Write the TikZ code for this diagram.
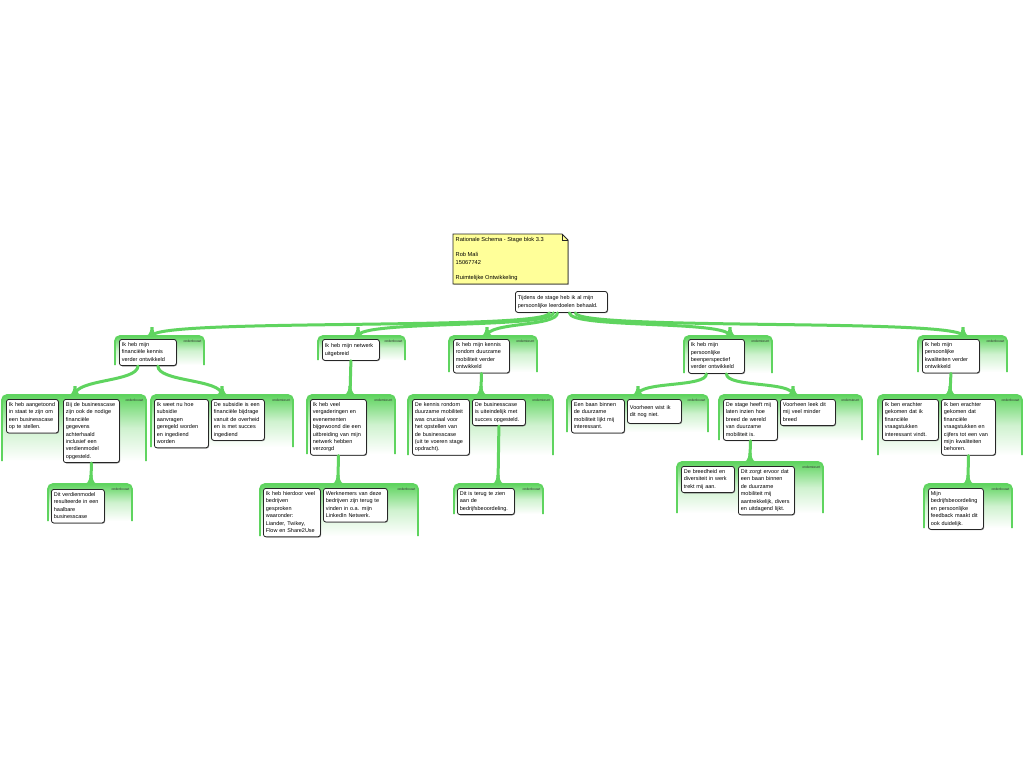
\documentclass[tikz,border=0pt]{standalone}
\usepackage{fontspec}
\setmainfont{Liberation Sans}
\usetikzlibrary{shadows,calc}
\definecolor{G}{RGB}{95,212,95}
\definecolor{notey}{RGB}{255,255,153}
\tikzset{
  box/.style={draw=black!85, line width=0.8pt, rounded corners=2.5pt, fill=white,
    inner xsep=2.5pt, inner ysep=2pt, align=left, anchor=north west,
    font=\fontsize{5.5}{7.4}\selectfont,
    drop shadow={shadow xshift=0.7pt, shadow yshift=-0.7pt, fill=black!45, opacity=1}},
  link/.style={draw=G, line width=3pt, line cap=round},
  tag/.style={font=\fontsize{3.4}{3.8}\selectfont, anchor=north east, inner sep=0pt, text=black!80},
}
\newcommand\bx[6]{\pgfmathsetmacro\tw{#4-5}%
  \node[box, text width=\tw pt, minimum height=#5pt] (#1) at (#2,#3) {\begin{tabular}{@{}l@{}}#6\end{tabular}};}
\newcommand\grp[5]{%
  \shade[top color=G, bottom color=white, middle color=G!30, rounded corners=5pt] (#1,#4) -- (#1,#2) -- (#3,#2) -- (#3,#4) -- cycle;
  \draw[G, line width=1.8pt, rounded corners=5pt] (#1,#4) -- (#1,#2) -- (#3,#2) -- (#3,#4);
  \node[tag] at (#3-2.5,#2+3.5) {#5};}
\newcommand\flare[1]{%
  \fill[G] ($(#1)+(-1.5,-9)$) .. controls ($(#1)+(-1.5,-2)$) and ($(#1)+(-4,0)$) .. ($(#1)+(-9,0.8)$)
    -- ($(#1)+(9,0.8)$) .. controls ($(#1)+(4,0)$) and ($(#1)+(1.5,-2)$) .. ($(#1)+(1.5,-9)$) -- cycle;}
\begin{document}
\begin{tikzpicture}[x=1pt,y=-1pt]
\useasboundingbox[fill=white] (0,0) rectangle (1024,768);

% ---------- groups ----------
\grp{115}{336}{204}{365}{onderbouwt}
\grp{318}{336}{405}{360}{onderbouwt}
\grp{449}{336}{537}{372}{ondersteunt}
\grp{684}{336}{772}{373}{ondersteunt}
\grp{918}{336}{1007}{372}{onderbouwt}

\grp{2}{395}{146}{461}{onderbouwt}
\grp{151}{395}{293}{447}{ondersteunt}
\grp{307}{395}{395}{454}{ondersteunt}
\grp{408}{395}{553}{455}{ondersteunt}
\grp{567}{395}{708}{432}{onderbouwt}
\grp{719}{395}{862}{440}{ondersteunt}
\grp{878}{395}{1022}{455}{onderbouwt}

\grp{48}{484}{132}{521}{onderbouwt}
\grp{260}{484}{418}{536}{onderbouwt}
\grp{454}{484}{543}{514}{onderbouwt}
\grp{677}{462}{823}{513}{ondersteunt}
\grp{924}{484}{1012}{528}{onderbouwt}

% ---------- group top coordinates ----------
\coordinate (t1) at (152,336);
\coordinate (t2) at (358,336);
\coordinate (t3) at (487,336);
\coordinate (t4) at (730,336);
\coordinate (t5) at (963,336);
\coordinate (t1a) at (75,395);
\coordinate (t1b) at (222,395);
\coordinate (t2a) at (350,395);
\coordinate (t3a) at (481,395);
\coordinate (t4a) at (638,395);
\coordinate (t4b) at (793,395);
\coordinate (t5a) at (950,395);
\coordinate (t1ai) at (91,484);
\coordinate (t2ai) at (338,484);
\coordinate (t3ai) at (498,484);
\coordinate (t4bi) at (750,462);
\coordinate (t5ai) at (968,484);

% ---------- note ----------
\filldraw[fill=notey, draw=black!85, line width=0.8pt,
  drop shadow={shadow xshift=0.7pt, shadow yshift=-0.7pt, fill=black!45, opacity=1}]
  (453,234) -- (562,234) -- (568,240) -- (568,284) -- (453,284) -- cycle;
\draw[black!85, line width=0.6pt] (562,234) -- (562,240) -- (568,240);
\node[anchor=north west, inner sep=0pt, align=left, font=\fontsize{5.7}{7.7}\selectfont] (note) at (455.5,237.3)
  {Rationale Schema - Stage blok 3.3\\[7.4pt]Rob Mali\\15067742\\[7.4pt]Ruimtelijke Ontwikkeling};

% ---------- boxes ----------
\bx{root}{515}{291}{92}{21}{Tijdens de stage heb ik al mijn\\persoonlijke leerdoelen behaald.}

\bx{n1}{119}{339}{57}{26}{Ik heb mijn\\financiële kennis\\verder ontwikkeld}
\bx{n2}{322}{339}{57}{21}{Ik heb mijn netwerk\\uitgebreid}
\bx{n3}{453}{339}{56}{33}{Ik heb mijn kennis\\rondom duurzame\\mobiliteit verder\\ontwikkeld}
\bx{n4}{688}{339}{56}{34}{Ik heb mijn\\persoonlijke\\beenperspectief\\verder ontwikkeld}
\bx{n5}{922}{339}{57}{33}{Ik heb mijn\\persoonlijke\\kwaliteiten verder\\ontwikkeld}

% ---------- connectors ----------
\draw[link] ($(root.south)+(-12,0)$) .. controls +(0,18) and +(0,-18) .. (t1);
\draw[link] ($(root.south)+(-8,0)$) .. controls +(0,16) and +(0,-16) .. (t2);
\draw[link] ($(root.south)+(-4,0)$) .. controls +(0,14) and +(0,-14) .. (t3);
\draw[link] ($(root.south)+(8,0)$) .. controls +(0,16) and +(0,-16) .. (t4);
\draw[link] ($(root.south)+(14,0)$) .. controls +(0,18) and +(0,-18) .. (t5);

\draw[link] ($(n1.south)+(-10,0)$) .. controls +(0,16) and +(0,-16) .. (t1a);
\draw[link] ($(n1.south)+(10,0)$) .. controls +(0,16) and +(0,-16) .. (t1b);
\draw[link] (n2.south) -- (t2a);
\draw[link] (n3.south) -- (t3a);
\draw[link] ($(n4.south)+(-10,0)$) .. controls +(0,14) and +(0,-14) .. (t4a);
\draw[link] ($(n4.south)+(10,0)$) .. controls +(0,14) and +(0,-14) .. (t4b);
\draw[link] (n5.south) -- (t5a);

\foreach \t in {t1,t2,t3,t4,t5,t1a,t1b,t2a,t3a,t4a,t4b,t5a} {\flare{\t}}

% ---------- level 2 ----------
\bx{a}{6}{399}{52}{32}{Ik heb aangetoond\\in staat te zijn om\\een businesscase\\op te stellen.}
\bx{b}{63}{399}{56}{62}{Bij de businesscase\\zijn ook de nodige\\financiële\\gegevens\\achterhaald\\inclusief een\\verdienmodel\\opgesteld.}
\bx{c}{154}{399}{54}{47}{Ik weet nu hoe\\subsidie\\aanvragen\\geregeld worden\\en ingediend\\worden}
\bx{d}{211}{399}{53}{40}{De subsidie is een\\financiële bijdrage\\vanuit de overheid\\en is met succes\\ingediend}
\bx{e2}{310}{399}{56}{54}{Ik heb veel\\vergaderingen en\\evenementen\\bijgewoond die een\\uitbreiding van mijn\\netwerk hebben\\verzorgd}
\bx{e}{412}{399}{57}{55}{De kennis rondom\\duurzame mobiliteit\\was cruciaal voor\\het opstellen van\\de businesscase\\(uit te voeren stage\\opdracht).}
\bx{f}{472}{399}{53}{25}{De businesscase\\is uiteindelijk met\\succes opgesteld.}
\bx{g}{571}{399}{53}{32}{Een baan binnen\\de duurzame\\mobiliteit lijkt mij\\interessant.}
\bx{h}{627}{399}{54}{24}{Voorheen wist ik\\dit nog niet.}
\bx{i}{723}{399}{54}{40}{De stage heeft mij\\laten inzien hoe\\breed de wereld\\van duurzame\\mobiliteit is.}
\bx{j}{780}{399}{55}{25}{Voorheen leek dit\\mij veel minder\\breed}
\bx{k}{882}{399}{56}{40}{Ik ben erachter\\gekomen dat ik\\financiële\\vraagstukken\\interessant vindt.}
\bx{l}{941}{399}{54}{55}{Ik ben erachter\\gekomen dat\\financiële\\vraagstukken en\\cijfers tot een van\\mijn kwaliteiten\\behoren.}

\draw[link] (b.south) -- (t1ai);
\draw[link] (e2.south) -- (t2ai);
\draw[link] (f.south) -- (t3ai);
\draw[link] (i.south) -- (t4bi);
\draw[link] (l.south) -- (t5ai);
\foreach \t in {t1ai,t2ai,t3ai,t4bi,t5ai} {\flare{\t}}

% ---------- level 3 ----------
\bx{m1}{51}{489}{53}{32}{Dit verdienmodel\\resulteerde in een\\haalbare\\businesscase}
\bx{mm}{263}{488}{57}{48}{Ik heb hierdoor veel\\bedrijven\\gesproken\\waaronder:\\Liander, Twikey,\\Flow en Share2Use}
\bx{nn}{323}{488}{64}{33}{Werknemers van deze\\bedrijven zijn terug te\\vinden in o.a. mijn\\LinkedIn Netwerk.}
\bx{p3}{457}{488}{57}{25}{Dit is terug te zien\\aan de\\bedrijfsbeoordeling.}
\bx{o}{681}{466}{53}{26}{De breedheid en\\diversiteit in werk\\trekt mij aan.}
\bx{p}{738}{466}{56}{47}{Dit zorgt ervoor dat\\een baan binnen\\de duurzame\\mobiliteit mij\\aantrekkelijk, divers\\en uitdagend lijkt.}
\bx{q}{928}{488}{55}{40}{Mijn\\bedrijfsbeoordeling\\en persoonlijke\\feedback maakt dit\\ook duidelijk.}
\end{tikzpicture}
\end{document}
